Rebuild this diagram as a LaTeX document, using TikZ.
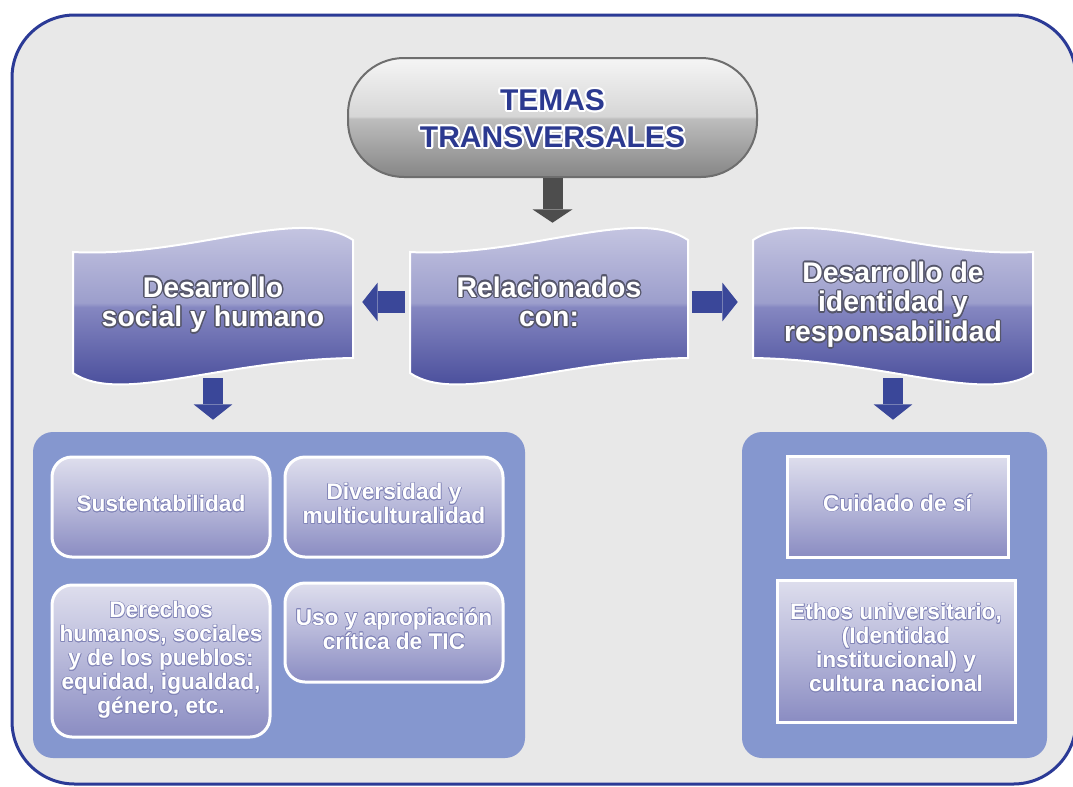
\documentclass[tikz,border=0pt]{standalone}
\usepackage{fontspec}
\setmainfont{Liberation Sans}
\usetikzlibrary{arrows.meta,calc}

\definecolor{frameblue}{HTML}{2B3A96}
\definecolor{framefill}{HTML}{E8E8E8}
\definecolor{panelblue}{HTML}{8597CF}
\definecolor{arrowblue}{HTML}{3A4799}
\definecolor{arrowgray}{HTML}{4D4D4D}
\definecolor{temablue}{HTML}{2B3990}
\definecolor{pillA}{HTML}{868686}
\definecolor{pillB}{HTML}{BDBDBD}
\definecolor{pillC}{HTML}{D6D6D6}
\definecolor{pillD}{HTML}{F5F5F5}
\definecolor{pillrim}{HTML}{6E6E6E}
\definecolor{bnA}{HTML}{3C4193}
\definecolor{bnB}{HTML}{8587C1}
\definecolor{bnC}{HTML}{9C9ECC}
\definecolor{bnD}{HTML}{D0D0E7}
\definecolor{boxTop}{HTML}{DEDEED}
\definecolor{boxMid}{HTML}{B6B7D9}
\definecolor{boxBot}{HTML}{8A8CC2}
\definecolor{bannerglow}{HTML}{55566A}
\definecolor{topicglow}{HTML}{8285B8}

\pgfdeclareverticalshading{pillshade}{100bp}{color(0bp)=(pillA); color(25bp)=(pillA); color(49.5bp)=(pillB); color(50.5bp)=(pillC); color(75bp)=(pillD); color(100bp)=(pillD)}
\pgfdeclareverticalshading{bannershade}{100bp}{color(0bp)=(bnA); color(25bp)=(bnA); color(49.5bp)=(bnB); color(50.5bp)=(bnC); color(75bp)=(bnD); color(100bp)=(bnD)}

\newdimen\glowr
\newcommand\glowput[2]{\rlap{\kern#1\glowr\raise#2\glowr\copy0}}
\newcommand\glowtext[4]{{\glowr=#3\relax
  \setbox0=\hbox{\color{#1}#4}\setbox2=\hbox{\color{#2}#4}%
  \hbox{\glowput{1}{0}\glowput{0.866}{0.5}\glowput{0.5}{0.866}\glowput{0}{1}%
  \glowput{-0.5}{0.866}\glowput{-0.866}{0.5}\glowput{-1}{0}\glowput{-0.866}{-0.5}%
  \glowput{-0.5}{-0.866}\glowput{0}{-1}\glowput{0.5}{-0.866}\glowput{0.866}{-0.5}%
  \box2}}}
\newcommand\tpill[1]{\glowtext{white}{temablue}{1.6pt}{\begin{tabular}{@{}c@{}}\rule{0pt}{25.6pt}#1\end{tabular}}}
\newcommand\tbanner[1]{\glowtext{bannerglow}{white}{1.0pt}{\begin{tabular}{@{}c@{}}\rule{0pt}{21.6pt}#1\end{tabular}}}
\newcommand\ttopic[1]{\glowtext{topicglow}{white}{0.5pt}{\begin{tabular}{@{}c@{}}#1\end{tabular}}}

\newcommand\waveR[2]{%
  \path[banner] (#1,252) .. controls ({#1+0.418*#2},258) and ({#1+0.81*#2},205) .. ({#1+#2},240)
    -- ({#1+#2},358) .. controls ({#1+0.525*#2},360) and ({#1+0.168*#2},405) .. (#1,373) -- cycle;}
\newcommand\waveL[2]{%
  \path[banner] (#1,252) .. controls ({#1-0.418*#2},258) and ({#1-0.81*#2},205) .. ({#1-#2},240)
    -- ({#1-#2},358) .. controls ({#1-0.525*#2},360) and ({#1-0.168*#2},405) .. (#1,373) -- cycle;}

\tikzset{
  frame/.style={draw=frameblue, line width=2.25pt, fill=framefill, rounded corners=47pt},
  pill/.style={draw=pillrim, line width=1.5pt, shade, shading=pillshade, rounded corners=42pt,
    minimum width=306.75pt, minimum height=89.25pt, inner sep=0pt,
    font=\fontsize{22.5}{28}\selectfont\bfseries},
  banner/.style={draw=white, line width=1.5pt, shade, shading=bannershade},
  bannertext/.style={inner sep=0pt, minimum height=114pt,
    font=\fontsize{21.3}{22.3}\selectfont\bfseries},
  panel/.style={fill=panelblue, rounded corners=15pt, inner sep=0pt, minimum height=244.5pt},
  topic/.style={draw=white, line width=2.25pt, top color=boxTop, bottom color=boxBot, middle color=boxMid,
    rounded corners=15pt, inner sep=0pt, minimum width=163.5pt,
    font=\fontsize{17}{18}\selectfont\bfseries},
  topicsq/.style={topic, rounded corners=0pt},
  bluearrow/.style={draw=arrowblue, line width=16pt, -{Triangle[width=29pt,length=11.5pt,line width=0pt]}},
  grayarrow/.style={draw=arrowgray, line width=15pt, -{Triangle[width=30pt,length=10pt,line width=0pt]}},
}

\begin{document}
\begin{tikzpicture}[x=0.75pt,y=-0.75pt]
\useasboundingbox (0,0) rectangle (1073,786);
\fill[white] (0,0) rectangle (1073,786);
\draw[frame] (12,15) rectangle (1076,784);

% panels
\node[panel, minimum width=369pt] (pl) at (279,595) {};
\node[panel, minimum width=228.75pt] (pr) at (894.5,595) {};

% banner shapes
\waveR{73}{280}
\waveR{410}{278}
\waveL{1033}{280}

% top pill
\node[pill] (pill) at (552.5,117.5) {\tpill{TEMAS\\TRANSVERSALES}};

% banner texts
\node[bannertext, minimum width=210pt] (b1) at (213,302) {\tbanner{Desarrollo\\social y humano}};
\node[bannertext, minimum width=208.5pt] (b2) at (549,302) {\tbanner{Relacionados\\con:}};
\node[bannertext, minimum width=210pt] (b3) at (893,302) {\tbanner{Desarrollo de\\identidad y\\responsabilidad}};

% left topics
\node[topic, minimum height=75pt] (s1) at (161,507) {\ttopic{Sustentabilidad}};
\node[topic, minimum height=75pt] (s2) at (394,507) {\ttopic{Diversidad y\\multiculturalidad}};
\node[topic, minimum height=114pt] (s3) at (161,661) {\ttopic{Derechos\\humanos, sociales\\y de los pueblos:\\equidad, igualdad,\\género, etc.}};
\node[topic, minimum height=74.25pt] (s4) at (394,632.5) {\ttopic{Uso y apropiación\\crítica de TIC}};

% right topics
\node[topicsq, minimum width=165.75pt, minimum height=75.75pt] (r1) at (897.5,506.5) {\ttopic{Cuidado de sí}};
\node[topicsq, minimum width=178.5pt, minimum height=106.5pt] (r2) at (896,651) {\ttopic{Ethos universitario,\\(Identidad\\institucional) y\\cultura nacional}};

% arrows
\draw[grayarrow, shorten >=2.25pt] (pill.south) -- (pill.south |- b2.north);
\draw[bluearrow, shorten <=3.75pt, shorten >=6.75pt] (b2.west) -- (b1.east);
\draw[bluearrow, shorten <=3pt, shorten >=11.25pt] (b2.east) -- (b3.west);
\draw[bluearrow, line width=15pt, shorten >=9pt] (b1.south) -- (b1.south |- pl.north);
\draw[bluearrow, line width=15pt, shorten >=9pt] (b3.south) -- (b3.south |- pr.north);
\end{tikzpicture}
\end{document}
